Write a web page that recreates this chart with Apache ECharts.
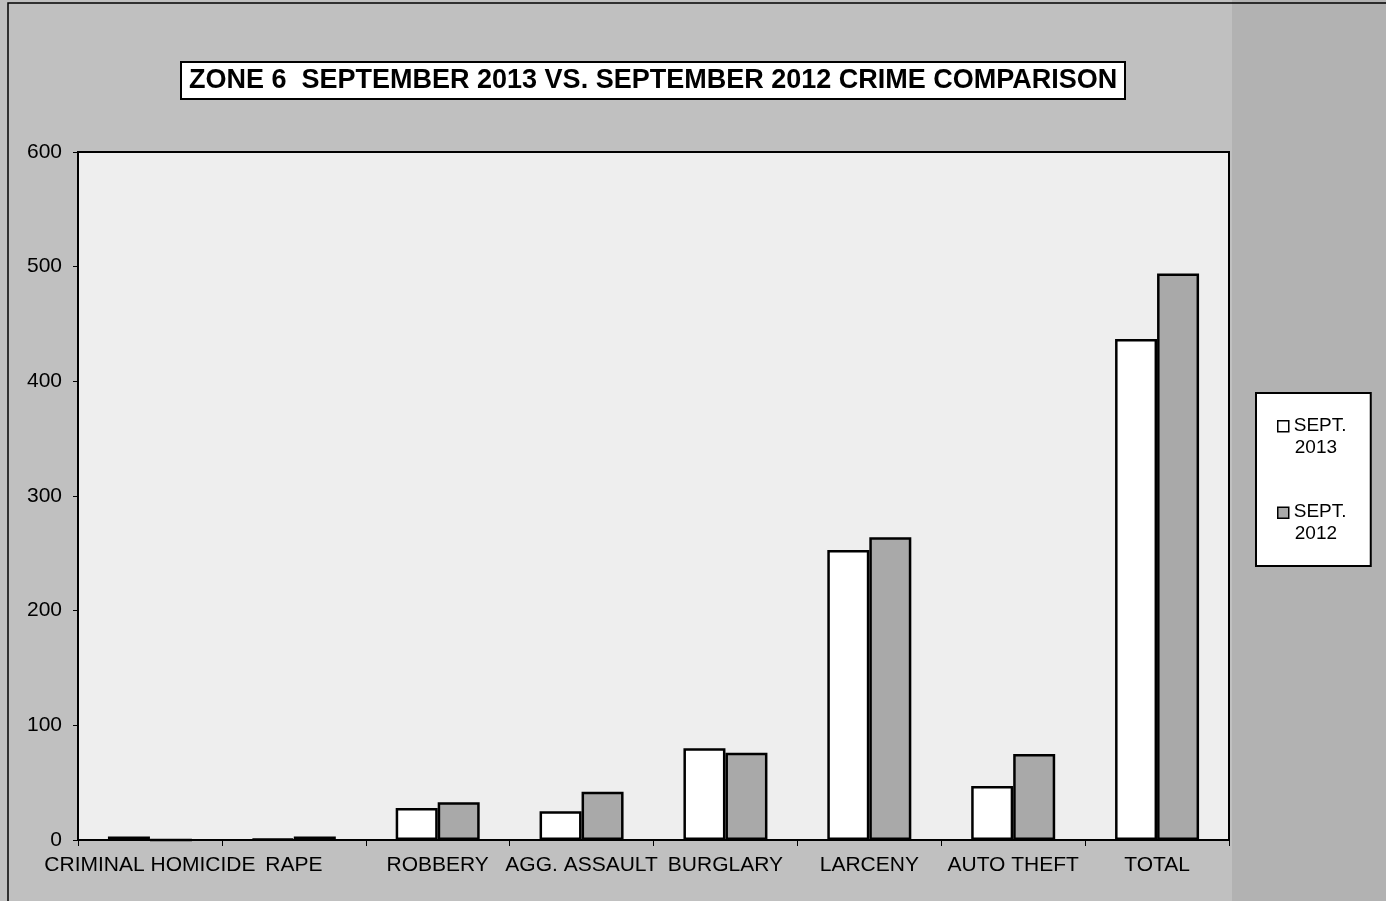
<!DOCTYPE html>
<html>
<head>
<meta charset="utf-8">
<script src="https://cdn.jsdelivr.net/npm/echarts@6/dist/echarts.min.js"></script>
<style>html,body{margin:0;padding:0;background:#c0c0c0}#c{width:1386px;height:901px}</style>
</head>
<body>
<div id="c"></div>
<script>
var categories = ['CRIMINAL HOMICIDE', 'RAPE', 'ROBBERY', 'AGG. ASSAULT', 'BURGLARY', 'LARCENY', 'AUTO THEFT', 'TOTAL'];
var sept2013 = [3, 1, 28, 25, 80, 253, 47, 437];
var sept2012 = [0, 3, 33, 42, 76, 264, 75, 494];
var yTicks = [0, 100, 200, 300, 400, 500, 600];
var seriesNames = ['SEPT. 2013', 'SEPT. 2012'];
var titleText = 'ZONE 6  SEPTEMBER 2013 VS. SEPTEMBER 2012 CRIME COMPARISON';

var chart = echarts.init(document.getElementById('c'), null, {renderer: 'canvas'});
var font = '"Liberation Sans", Arial, sans-serif';
chart.setOption({
  backgroundColor: '#c0c0c0',
  animation: false,
  graphic: [
    {type: 'rect', z: -1, shape: {x: 1232, y: 0, width: 160, height: 901}, style: {fill: '#b2b2b2'}},
    {type: 'rect', z: -1, shape: {x: 8, y: 3, width: 1400, height: 1000}, style: {fill: null, stroke: '#000', lineWidth: 1.5}}
  ],
  title: {
    text: titleText,
    left: 181, top: 62,
    padding: [5, 8, 5, 8],
    backgroundColor: '#ffffff',
    borderColor: '#000', borderWidth: 2,
    textStyle: {fontFamily: font, fontWeight: 'bold', fontSize: 27, color: '#000'}
  },
  legend: {
    orient: 'vertical',
    left: 1256, top: 393,
    padding: [21, 20, 20, 21],
    itemGap: 41,
    itemWidth: 11, itemHeight: 44,
    icon: 'path://M0,6H11V17H0Z M0,0 M11,44',
    backgroundColor: '#ffffff',
    borderColor: '#000', borderWidth: 2,
    data: seriesNames,
    formatter: function (n) { var p = n.split(' '); return '{a|' + p[0] + '}\n{b|' + p[1] + '}'; },
    textStyle: {
      fontFamily: font, fontSize: 19, color: '#000', lineHeight: 22,
      rich: {
        a: {fontFamily: font, fontSize: 19, color: '#000', lineHeight: 22, width: 56, align: 'left'},
        b: {fontFamily: font, fontSize: 19, color: '#000', lineHeight: 22, width: 56, align: 'left', padding: [0, 0, 0, 1]}
      }
    },
    itemStyle: {borderWidth: 1.5}
  },
  grid: {
    left: 78, right: 157, top: 152, bottom: 61,
    show: true, backgroundColor: '#eeeeee', borderColor: '#000', borderWidth: 2
  },
  xAxis: {
    type: 'category',
    data: categories,
    axisLine: {lineStyle: {color: '#000', width: 2}},
    axisTick: {show: true, length: 6, lineStyle: {color: '#000'}},
    axisLabel: {
      interval: 0, hideOverlap: false,
      fontFamily: font, fontSize: 21, color: '#000', margin: 15
    }
  },
  yAxis: {
    type: 'value',
    min: yTicks[0], max: yTicks[yTicks.length - 1], interval: 100,
    splitLine: {show: false},
    axisLine: {show: true, lineStyle: {color: '#000', width: 2}},
    axisTick: {show: true, length: 5, lineStyle: {color: '#000'}},
    axisLabel: {fontFamily: font, fontSize: 21, color: '#000', margin: 16}
  },
  series: [
    {
      name: seriesNames[0], type: 'bar', data: sept2013,
      barWidth: 42, barGap: '0%',
      itemStyle: {color: '#ffffff', borderColor: '#000', borderWidth: 2.5}
    },
    {
      name: seriesNames[1], type: 'bar', data: sept2012,
      barWidth: 42, barGap: '0%',
      itemStyle: {color: '#a9a9a9', borderColor: '#000', borderWidth: 2.5}
    }
  ]
});
</script>
</body>
</html>
